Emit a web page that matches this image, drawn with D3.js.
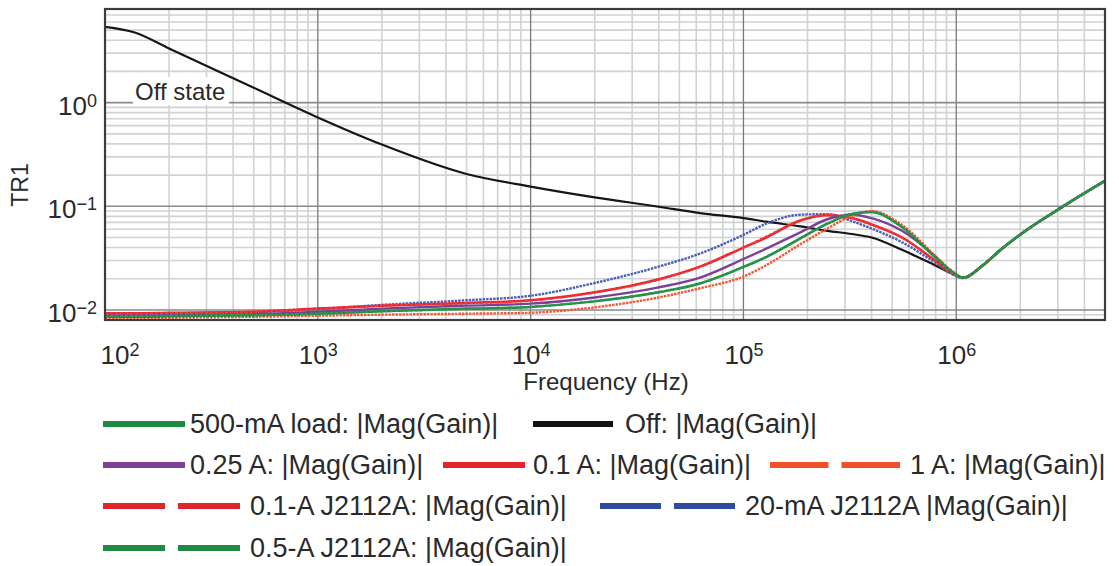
<!DOCTYPE html>
<html>
<head>
<meta charset="utf-8">
<script src="https://cdn.jsdelivr.net/npm/d3@7"></script>
<style>
  body { margin: 0; background: #fff; }
  text { font-family: "Liberation Sans", Arial, sans-serif; fill: #2a2a2a; }
</style>
</head>
<body>
<svg id="chart" width="1119" height="566"></svg>
<script>
// Frequencies (Hz) shared by every trace
var freqs = [100, 138, 200, 500, 1000, 2000, 5000, 1e4, 2e4, 4e4, 62500, 1e5, 128000, 185000,
  248000, 323000, 400000, 556000, 794000, 955000, 1080000, 1320000, 1640000, 2040000, 3150000, 5e6];

// |Mag(Gain)|
var offState = [5.38, 4.74, 3.33, 1.39, 0.72, 0.394, 0.205, 0.155, 0.122, 0.099, 0.086, 0.077, 0.071, 0.064,
  0.058, 0.054, 0.050, 0.038, 0.027, 0.0225, 0.0205, 0.0265, 0.039, 0.055, 0.0987, 0.176];
var load500mA = [0.0086, 0.0086, 0.0087, 0.0089, 0.0092, 0.0097, 0.0103, 0.0107, 0.0121, 0.0148, 0.0180, 0.026, 0.0324, 0.049,
  0.068, 0.084, 0.088, 0.063, 0.0324, 0.0233, 0.0204, 0.0265, 0.039, 0.055, 0.0987, 0.176];
var load025A = [0.0088, 0.0088, 0.0089, 0.0091, 0.0096, 0.0103, 0.0110, 0.0115, 0.0132, 0.0165, 0.0205, 0.031, 0.039, 0.056,
  0.075, 0.083, 0.077, 0.058, 0.033, 0.0232, 0.0204, 0.0265, 0.039, 0.055, 0.0987, 0.176];
var load01A = [0.0093, 0.0093, 0.0094, 0.0096, 0.0103, 0.0110, 0.0117, 0.0124, 0.0148, 0.0198, 0.0262, 0.040, 0.050, 0.073,
  0.082, 0.077, 0.067, 0.050, 0.030, 0.0226, 0.0204, 0.0265, 0.039, 0.055, 0.0987, 0.176];
var load1A = [0.0083, 0.0083, 0.0084, 0.0086, 0.0088, 0.0090, 0.0092, 0.0094, 0.0106, 0.0132, 0.0162, 0.021, 0.027, 0.043,
  0.061, 0.081, 0.090, 0.066, 0.0335, 0.0238, 0.0206, 0.0262, 0.039, 0.055, 0.0987, 0.176];
var j2112a01A = [0.0092, 0.0092, 0.0093, 0.0096, 0.0102, 0.0110, 0.0116, 0.0123, 0.0147, 0.0196, 0.0260, 0.040, 0.051, 0.073,
  0.083, 0.077, 0.066, 0.050, 0.030, 0.0225, 0.0204, 0.0265, 0.039, 0.055, 0.0987, 0.176];
var j2112a20mA = [0.0091, 0.0091, 0.0092, 0.0095, 0.0102, 0.0112, 0.0124, 0.0137, 0.0182, 0.0262, 0.0350, 0.053, 0.068, 0.083,
  0.084, 0.072, 0.061, 0.045, 0.0287, 0.0222, 0.0203, 0.0265, 0.039, 0.055, 0.0987, 0.176];
var j2112a05A = [0.0087, 0.0087, 0.0088, 0.0089, 0.0092, 0.0097, 0.0102, 0.0107, 0.0122, 0.0149, 0.0181, 0.026, 0.0326, 0.049,
  0.068, 0.085, 0.088, 0.063, 0.0324, 0.0233, 0.0204, 0.0265, 0.039, 0.055, 0.0987, 0.176];

var xTicks = [1e2, 1e3, 1e4, 1e5, 1e6];
var xTickExp = ["2", "3", "4", "5", "6"];
var yTicks = [1, 0.1, 0.01];
var yTickExp = ["0", "\u22121", "\u22122"];

var margin = {top: 9, right: 14, bottom: 246, left: 105};

var svg = d3.select("#chart"),
  width = +svg.attr("width") - margin.left - margin.right,
  height = +svg.attr("height") - margin.top - margin.bottom;

var g = svg.append("g").attr("transform", "translate(" + margin.left + "," + margin.top + ")");

var x = d3.scaleLog().domain([100, 5e6]).range([0, width]);
var y = d3.scaleLog().domain([0.008, 8]).range([height, 0]);

function isMajor(v) { return Math.abs(Math.log10(v) - Math.round(Math.log10(v))) < 1e-9; }

// grid: light minor lines first, darker decade lines on top
var grid = g.append("g");
grid.selectAll(".vminor").data(x.ticks().filter(function(d) { return !isMajor(d); }))
  .enter().append("line")
    .attr("x1", function(d) { return x(d); }).attr("x2", function(d) { return x(d); })
    .attr("y1", 0).attr("y2", height)
    .attr("stroke", "#d0d2d4").attr("stroke-width", 1.6);
grid.selectAll(".hminor").data(y.ticks().filter(function(d) { return !isMajor(d); }))
  .enter().append("line")
    .attr("x1", 0).attr("x2", width)
    .attr("y1", function(d) { return y(d); }).attr("y2", function(d) { return y(d); })
    .attr("stroke", "#d0d2d4").attr("stroke-width", 1.6);
grid.selectAll(".vmajor").data(xTicks)
  .enter().append("line")
    .attr("x1", function(d) { return x(d); }).attr("x2", function(d) { return x(d); })
    .attr("y1", 0).attr("y2", height)
    .attr("stroke", "#7a7a7a").attr("stroke-width", 1.3);
grid.selectAll(".hmajor").data(yTicks)
  .enter().append("line")
    .attr("x1", 0).attr("x2", width)
    .attr("y1", function(d) { return y(d); }).attr("y2", function(d) { return y(d); })
    .attr("stroke", "#8a8a8a").attr("stroke-width", 1.6);

// "Off state" annotation sits on a white patch over the grid
g.append("rect")
  .attr("x", 28).attr("y", 68).attr("width", 96).attr("height", 28)
  .attr("fill", "#fff");
g.append("text")
  .attr("x", 30).attr("y", 91)
  .style("font-size", "24px")
  .text("Off state");

// traces
var series = [
  {values: offState, color: "#161616", width: 2.2, dash: null},
  {values: j2112a20mA, color: "#4a5fb8", width: 2.4, dash: "2.5,1"},
  {values: load01A, color: "#e8232b", width: 2.5, dash: null},
  {values: j2112a01A, color: "#ee3a3a", width: 2.2, dash: "3,2"},
  {values: load025A, color: "#7d3f98", width: 2.4, dash: null},
  {values: load1A, color: "#f25a36", width: 2.4, dash: "2.5,1"},
  {values: load500mA, color: "#1f8a42", width: 2.5, dash: null},
  {values: j2112a05A, color: "#2a9a4e", width: 2.2, dash: "3,2"}
];

svg.append("defs").append("clipPath").attr("id", "plotclip")
  .append("rect").attr("width", width).attr("height", height);

var line = d3.line()
  .x(function(d, i) { return x(freqs[i]); })
  .y(function(d) { return y(d); })
  .curve(d3.curveMonotoneX);

g.append("g").attr("clip-path", "url(#plotclip)")
  .selectAll("path").data(series).enter().append("path")
    .attr("d", function(s) { return line(s.values); })
    .attr("fill", "none")
    .attr("stroke", function(s) { return s.color; })
    .attr("stroke-width", function(s) { return s.width; })
    .attr("stroke-dasharray", function(s) { return s.dash; })
    .attr("stroke-linejoin", "round");

// frame
g.append("rect")
  .attr("width", width).attr("height", height)
  .attr("fill", "none").attr("stroke", "#3c3c3c").attr("stroke-width", 2.2);

// axes with power-of-ten labels
function powerLabel(sel, exps) {
  sel.selectAll(".tick text").each(function(d, i) {
    var t = d3.select(this).text(null).style("font-size", "26px").attr("fill", "#2a2a2a");
    t.append("tspan").text("10");
    t.append("tspan").attr("dy", "-0.45em").style("font-size", "18px").text(exps[i]);
  });
  sel.select(".domain").remove();
}

var xAxis = g.append("g").attr("transform", "translate(0," + height + ")")
  .call(d3.axisBottom(x).tickValues(xTicks).tickSize(0).tickPadding(26));
powerLabel(xAxis, xTickExp);
xAxis.selectAll(".tick text").filter(function(d, i) { return i === 0; })
  .attr("text-anchor", "start").attr("x", -5);

var yAxis = g.append("g")
  .call(d3.axisLeft(y).tickValues(yTicks).tickSize(0).tickPadding(8));
powerLabel(yAxis, yTickExp);
yAxis.selectAll(".tick text").attr("dy", "0.45em");

svg.append("text")
  .attr("x", 606).attr("y", 390)
  .attr("text-anchor", "middle")
  .style("font-size", "24px")
  .text("Frequency (Hz)");

svg.append("text")
  .attr("transform", "translate(28,185) rotate(-90)")
  .attr("text-anchor", "middle")
  .style("font-size", "23px")
  .text("TR1");

// legend
var legendLabels = ["500-mA load: |Mag(Gain)|", "Off: |Mag(Gain)|", "0.25 A: |Mag(Gain)|", "0.1 A: |Mag(Gain)|",
  "1 A: |Mag(Gain)|", "0.1-A J2112A: |Mag(Gain)|", "20-mA J2112A |Mag(Gain)|", "0.5-A J2112A: |Mag(Gain)|"];
var legendColors = ["#1f8a42", "#111111", "#7d3f98", "#e3242b", "#ef5128", "#e3242b", "#2e4c9e", "#1f8a42"];
var legendDashed = [false, false, false, false, true, true, true, true];

var rowY = [424, 465, 506, 548];
var legendPos = [
  {row: 0, x: 103, w: 82, tx: 190},
  {row: 0, x: 533, w: 80, tx: 625},
  {row: 1, x: 103, w: 82, tx: 190},
  {row: 1, x: 443, w: 82, tx: 533},
  {row: 1, x: 770, w: 130, tx: 910},
  {row: 2, x: 103, w: 137, tx: 250},
  {row: 2, x: 600, w: 135, tx: 745},
  {row: 3, x: 103, w: 137, tx: 250}
];

var legend = svg.append("g");
legendLabels.forEach(function(label, i) {
  var p = legendPos[i], cy = rowY[p.row];
  legend.append("line")
    .attr("x1", p.x).attr("x2", p.x + p.w)
    .attr("y1", cy).attr("y2", cy)
    .attr("stroke", legendColors[i]).attr("stroke-width", 6)
    .attr("stroke-dasharray", legendDashed[i] ? ((p.w - 13) / 2) + ",13" : null);
  legend.append("text")
    .attr("x", p.tx).attr("y", cy + 9)
    .style("font-size", "27px")
    .text(label);
});
</script>
</body>
</html>
